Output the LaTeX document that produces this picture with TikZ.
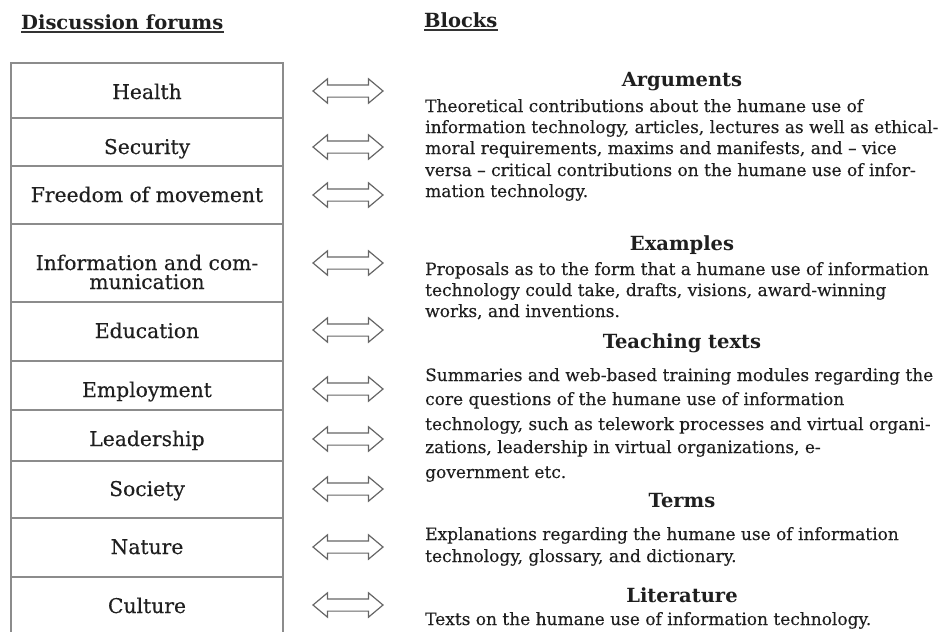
\documentclass[tikz,border=0pt]{standalone}
\usepackage{fontspec}
\setmainfont{DejaVu Serif}
\newfontfamily\textface{DejaVu Serif}[FakeBold=0.25]
\usetikzlibrary{shapes.arrows}
\begin{document}
\begin{tikzpicture}[x=1pt,y=-1pt,
  ink/.style={text=black!88, inner sep=0pt},
  colhead/.style={ink, font=\bfseries\fontsize{19.5}{22}\selectfont, anchor=base west},
  forum/.style={ink, font=\textface\fontsize{20.3}{22}\selectfont, anchor=base},
  blockhead/.style={ink, font=\bfseries\fontsize{19.5}{22}\selectfont, anchor=base},
  body/.style={ink, font=\textface\fontsize{17}{20}\selectfont, anchor=base west},
  linkarrow/.style={double arrow, draw=black!60, line width=1.2pt, minimum height=70pt,
    inner xsep=0pt, inner ysep=5.5pt, double arrow head extend=6pt, double arrow tip angle=80},
  rule/.style={draw=black!45, line width=1.6pt}]
\useasboundingbox (0,0) rectangle (940,632);

% column headings
\node[colhead] (hforum) at (21,29) {Discussion forums};
\node[colhead] (hblock) at (424,27) {Blocks};
\draw[black!80, line width=1.4pt] ([yshift=-3pt]hforum.base west) -- ([yshift=-3pt]hforum.base east);
\draw[black!80, line width=1.4pt] ([yshift=-3pt]hblock.base west) -- ([yshift=-3pt]hblock.base east);

% table of discussion forums
\draw[rule] (11,632) -- (11,63) -- (283,63) -- (283,632);
\foreach \yy in {118,166,224,302,361,410,461,518,577}
  \draw[rule] (11,\yy) -- (283,\yy);

\node[forum] (f1) at (147,99) {Health};
\node[forum] (f2) at (147,154) {Security};
\node[forum] (f3) at (147,202) {Freedom of movement};
\node[forum] (f4a) at (147,270) {Information and com-};
\node[forum] (f4b) at (147,289) {munication};
\node[forum] (f5) at (147,338) {Education};
\node[forum] (f6) at (147,397) {Employment};
\node[forum] (f7) at (147,446) {Leadership};
\node[forum] (f8) at (147,496) {Society};
\node[forum] (f9) at (147,554) {Nature};
\node[forum] (f10) at (147,613) {Culture};

% two-way arrows
\node[linkarrow] (a1) at (348,91) {};
\node[linkarrow] (a2) at (348,147) {};
\node[linkarrow] (a3) at (348,195) {};
\node[linkarrow] (a4) at (348,263) {};
\node[linkarrow] (a5) at (348,330) {};
\node[linkarrow] (a6) at (348,389) {};
\node[linkarrow] (a7) at (348,439) {};
\node[linkarrow] (a8) at (348,489) {};
\node[linkarrow] (a9) at (348,547) {};
\node[linkarrow] (a10) at (348,605) {};

% blocks
\node[blockhead] (b1) at (682,86) {Arguments};
\node[body] (b1l1) at (425,112) {Theoretical contributions about the humane use of};
\node[body] (b1l2) at (425,133) {information technology, articles, lectures as well as ethical-};
\node[body] (b1l3) at (425,154) {moral requirements, maxims and manifests, and – vice};
\node[body] (b1l4) at (425,176) {versa – critical contributions on the humane use of infor-};
\node[body] (b1l5) at (425,197) {mation technology.};

\node[blockhead] (b2) at (682,250) {Examples};
\node[body] (b2l1) at (425,275) {Proposals as to the form that a humane use of information};
\node[body] (b2l2) at (425,296) {technology could take, drafts, visions, award-winning};
\node[body] (b2l3) at (425,317) {works, and inventions.};

\node[blockhead] (b3) at (682,348) {Teaching texts};
\node[body] (b3l1) at (425,381) {Summaries and web-based training modules regarding the};
\node[body] (b3l2) at (425,405) {core questions of the humane use of information};
\node[body] (b3l3) at (425,430) {technology, such as telework processes and virtual organi-};
\node[body] (b3l4) at (425,453) {zations, leadership in virtual organizations, e-};
\node[body] (b3l5) at (425,478) {government etc.};

\node[blockhead] (b4) at (682,507) {Terms};
\node[body] (b4l1) at (425,540) {Explanations regarding the humane use of information};
\node[body] (b4l2) at (425,562) {technology, glossary, and dictionary.};

\node[blockhead] (b5) at (682,602) {Literature};
\node[body] (b5l1) at (425,625) {Texts on the humane use of information technology.};
\end{tikzpicture}
\end{document}
